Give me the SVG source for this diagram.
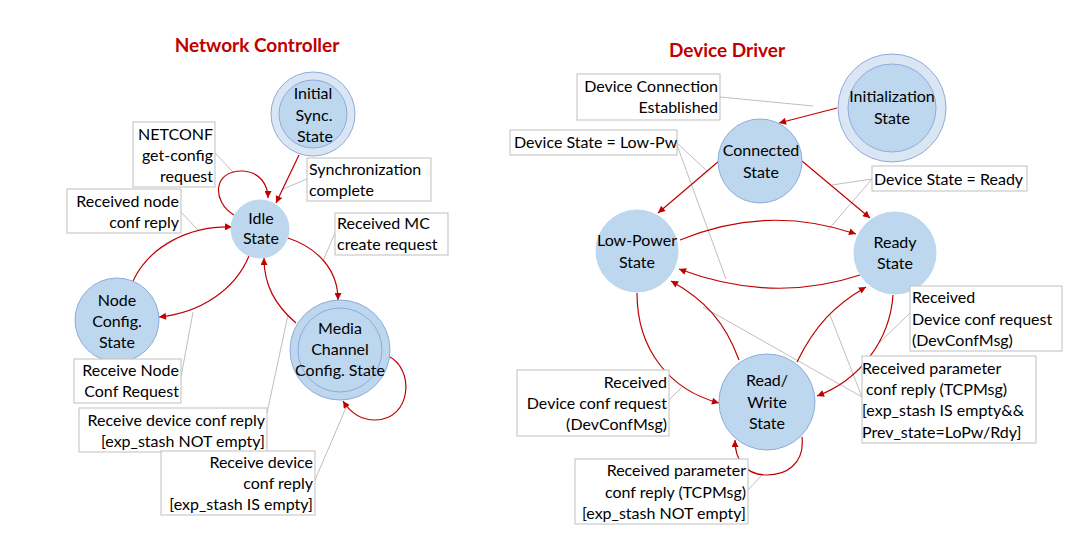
<svg xmlns="http://www.w3.org/2000/svg" width="1078" height="557" viewBox="0 0 1078 557">
<style>
  text { font-family: Lato, "Open Sans", sans-serif; font-size: 16px; fill: #000; }
  .title { font-weight: bold; font-size: 19px; fill: #C00000; text-anchor: middle; }
  .c { text-anchor: middle; }
  .r { text-anchor: end; }
  .st { fill: #BDD7EE; stroke: #BDD7EE; stroke-width: 1; }
  .stb { fill: #BDD7EE; stroke: #8FAADC; stroke-width: 1; }
  .outerL { fill: #DAE6F4; stroke: #8FAADC; stroke-width: 1; }
  .box { fill: #FFFFFF; stroke: #BFBFBF; stroke-width: 1; }
  .arr { fill: none; stroke: #C00000; stroke-width: 1.2; marker-end: url(#ah); }
  .ld { fill: none; stroke: #BFBFBF; stroke-width: 1; }
</style>
<defs>
  <marker id="ah" viewBox="0 0 10 10" refX="10" refY="5" markerWidth="8" markerHeight="7" markerUnits="userSpaceOnUse" orient="auto">
    <path d="M0,0 L10,5 L0,10 z" fill="#C00000"/>
  </marker>
</defs>
<rect width="1078" height="557" fill="#FFFFFF"/>

<text class="title" x="257" y="52">Network Controller</text>
<text class="title" x="727" y="57">Device Driver</text>

<!-- Leader lines and connectors -->
<g id="connectors">
  <g id="leaders">
    <line class="ld" x1="215" y1="153" x2="233" y2="172"/>
    <line class="ld" x1="307" y1="179" x2="283" y2="189"/>
    <line class="ld" x1="181" y1="212" x2="198" y2="230"/>
    <line class="ld" x1="335" y1="233" x2="323" y2="261"/>
    <line class="ld" x1="181" y1="377" x2="193" y2="312"/>
    <line class="ld" x1="267" y1="413" x2="288" y2="315"/>
    <line class="ld" x1="315" y1="480" x2="348" y2="403"/>
    <line class="ld" x1="720" y1="97" x2="813" y2="106"/>
    <line class="ld" x1="677" y1="143" x2="707" y2="171"/>
    <line class="ld" x1="677" y1="145" x2="726" y2="279"/>
    <line class="ld" x1="872" y1="179" x2="832" y2="185"/>
    <line class="ld" x1="872" y1="179" x2="828" y2="230"/>
    <line class="ld" x1="669" y1="400" x2="683" y2="386"/>
    <line class="ld" x1="748" y1="490" x2="762" y2="475"/>
    <line class="ld" x1="910" y1="313" x2="878" y2="344"/>
    <line class="ld" x1="862" y1="397" x2="703" y2="307"/>
    <line class="ld" x1="862" y1="397" x2="830" y2="315"/>
  </g>
  <g id="arrows-left">
    <path class="arr" d="M299,155 L276,203"/>
    <path class="arr" d="M234,215 C212,202 212,170 243,171 C260,172 268,185 268,198"/>
    <path class="arr" d="M288,238 C318,248 338,270 338,300"/>
    <path class="arr" d="M296,323 C275,305 264,285 264,258"/>
    <path class="arr" d="M249,256 C235,290 200,313 159,317"/>
    <path class="arr" d="M133,281 C150,245 190,226 232,227"/>
    <path class="arr" d="M388,356 C415,368 412,420 375,420 C360,420 350,412 343,401"/>
  </g>
  <g id="arrows-right">
    <path class="arr" d="M837,108 L779,123"/>
    <path class="arr" d="M719,161 L658,213"/>
    <path class="arr" d="M802,161 L870,218"/>
    <path class="arr" d="M680,240 C740,215 800,215 856,234"/>
    <path class="arr" d="M860,275 C800,295 740,292 679,269"/>
    <path class="arr" d="M637,293 C637,350 670,390 719,403"/>
    <path class="arr" d="M739,360 C725,322 705,300 671,281"/>
    <path class="arr" d="M797,362 C815,325 835,305 866,287"/>
    <path class="arr" d="M893,295 C890,340 860,380 817,396"/>
    <path class="arr" d="M802,437 C805,465 785,475 767,475 C745,475 735,460 735,440"/>
  </g>
</g>

<!-- Left: Network Controller nodes -->
<g id="initial-sync">
  <circle class="outerL" cx="313" cy="114" r="42"/>
  <circle class="stb" cx="313" cy="114" r="34"/>
  <text class="c" x="313" y="99">Initial</text>
  <text class="c" x="314" y="121">Sync.</text>
  <text class="c" x="315" y="142">State</text>
</g>
<g id="idle">
  <circle class="st" cx="260" cy="229" r="29"/>
  <text class="c" x="261" y="224">Idle</text>
  <text class="c" x="261" y="244">State</text>
</g>
<g id="node-config">
  <circle class="stb" cx="117" cy="320" r="42"/>
  <text class="c" x="117" y="306">Node</text>
  <text class="c" x="117" y="327">Config.</text>
  <text class="c" x="117" y="348">State</text>
</g>
<g id="media-channel">
  <circle class="stb" cx="340" cy="350" r="50"/>
  <circle class="stb" cx="340" cy="350" r="42"/>
  <text class="c" x="340" y="334">Media</text>
  <text class="c" x="340" y="355">Channel</text>
  <text class="c" x="340" y="376">Config. State</text>
</g>

<!-- Left labels -->
<g id="lbl-netconf">
  <rect class="box" x="133" y="122" width="82" height="65"/>
  <text class="r" x="213" y="140">NETCONF</text>
  <text class="r" x="213" y="161">get-config</text>
  <text class="r" x="213" y="182">request</text>
</g>
<g id="lbl-sync">
  <rect class="box" x="307" y="158" width="124" height="43"/>
  <text x="309" y="175">Synchronization</text>
  <text x="309" y="196">complete</text>
</g>
<g id="lbl-node-reply">
  <rect class="box" x="67" y="189" width="114" height="44"/>
  <text class="r" x="179" y="207">Received node</text>
  <text class="r" x="179" y="228">conf reply</text>
</g>
<g id="lbl-mc-create">
  <rect class="box" x="335" y="213" width="113" height="42"/>
  <text x="337" y="229">Received MC</text>
  <text x="337" y="250">create request</text>
</g>
<g id="lbl-node-req">
  <rect class="box" x="74" y="359" width="107" height="44"/>
  <text class="r" x="179" y="376">Receive Node</text>
  <text class="r" x="179" y="397">Conf Request</text>
</g>
<g id="lbl-dev-not-empty">
  <rect class="box" x="79" y="408" width="188" height="44"/>
  <text class="r" x="265" y="426">Receive device conf reply</text>
  <text class="r" x="265" y="447">[exp_stash NOT empty]</text>
</g>
<g id="lbl-dev-is-empty">
  <rect class="box" x="161" y="451" width="154" height="64"/>
  <text class="r" x="313" y="468">Receive device</text>
  <text class="r" x="313" y="489">conf reply</text>
  <text class="r" x="313" y="510">[exp_stash IS empty]</text>
</g>

<!-- Right: Device Driver nodes -->
<g id="initialization">
  <circle class="outerL" cx="892" cy="108" r="54"/>
  <circle class="stb" cx="892" cy="108" r="44"/>
  <text class="c" x="892" y="102">Initialization</text>
  <text class="c" x="892" y="124">State</text>
</g>
<g id="connected">
  <circle class="stb" cx="760" cy="161" r="42"/>
  <text class="c" x="761" y="156">Connected</text>
  <text class="c" x="761" y="178">State</text>
</g>
<g id="low-power">
  <circle class="st" cx="637" cy="251" r="41"/>
  <text class="c" x="637" y="246">Low-Power</text>
  <text class="c" x="637" y="268">State</text>
</g>
<g id="ready">
  <circle class="st" cx="895" cy="253" r="41"/>
  <text class="c" x="895" y="248">Ready</text>
  <text class="c" x="895" y="269">State</text>
</g>
<g id="read-write">
  <circle class="stb" cx="767" cy="402" r="48"/>
  <text class="c" x="767" y="386">Read/</text>
  <text class="c" x="767" y="408">Write</text>
  <text class="c" x="767" y="429">State</text>
</g>

<!-- Right labels -->
<g id="lbl-dev-conn">
  <rect class="box" x="577" y="74" width="143" height="46"/>
  <text class="r" x="718" y="92">Device Connection</text>
  <text class="r" x="718" y="113">Established</text>
</g>
<g id="lbl-lowpw">
  <rect class="box" x="510" y="130" width="167" height="25"/>
  <text x="514" y="148">Device State = Low-Pw</text>
</g>
<g id="lbl-ready">
  <rect class="box" x="872" y="166" width="155" height="25"/>
  <text x="874" y="185">Device State = Ready</text>
</g>
<g id="lbl-devconf-right">
  <rect class="box" x="910" y="286" width="152" height="65"/>
  <text x="912" y="303">Received</text>
  <text x="912" y="325">Device conf request</text>
  <text x="912" y="346">(DevConfMsg)</text>
</g>
<g id="lbl-tcp-right">
  <rect class="box" x="862" y="356" width="174" height="87"/>
  <text x="862" y="374">Received parameter</text>
  <text x="866" y="395">conf reply (TCPMsg)</text>
  <text x="862" y="416">[exp_stash IS empty&amp;&amp;</text>
  <text x="862" y="438">Prev_state=LoPw/Rdy]</text>
</g>
<g id="lbl-devconf-left">
  <rect class="box" x="517" y="370" width="152" height="66"/>
  <text class="r" x="667" y="388">Received</text>
  <text class="r" x="667" y="409">Device conf request</text>
  <text class="r" x="667" y="430">(DevConfMsg)</text>
</g>
<g id="lbl-tcp-bottom">
  <rect class="box" x="575" y="459" width="173" height="65"/>
  <text class="r" x="746" y="476">Received parameter</text>
  <text class="r" x="746" y="498">conf reply (TCPMsg)</text>
  <text class="r" x="746" y="519">[exp_stash NOT empty]</text>
</g>
</svg>
